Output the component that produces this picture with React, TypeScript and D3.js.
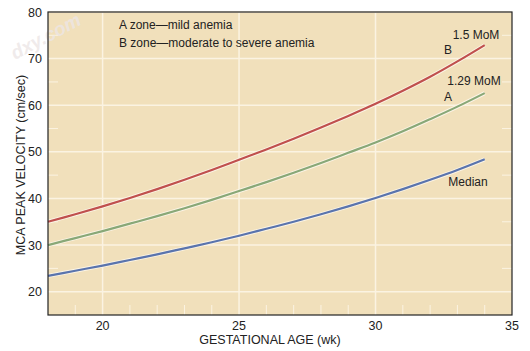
import React from "react";
import * as d3 from "d3";

const weeks = [18, 19, 20, 21, 22, 23, 24, 25, 26, 27, 28, 29, 30, 31, 32, 33, 34];
const median = [23.4, 24.5, 25.6, 26.8, 28.0, 29.3, 30.6, 32.0, 33.5, 35.0, 36.6, 38.3, 40.1, 42.0, 44.0, 46.1, 48.4];
const mom129 = [30.0, 31.5, 33.0, 34.6, 36.2, 37.9, 39.7, 41.6, 43.5, 45.5, 47.6, 49.8, 52.0, 54.4, 57.0, 59.7, 62.6];
const mom15 = [35.0, 36.6, 38.3, 40.1, 42.0, 44.0, 46.1, 48.3, 50.5, 52.8, 55.2, 57.7, 60.3, 63.1, 66.1, 69.4, 72.9];
const xTicks = [20, 25, 30, 35];
const yTicks = [20, 30, 40, 50, 60, 70, 80];
const yMinor = [25, 35, 45, 55, 65, 75];
const xMinor = [19, 21, 22, 23, 24, 26, 27, 28, 29, 31, 32, 33, 34];
const legendLines = ["A zone\u2014mild anemia", "B zone\u2014moderate to severe anemia"];

const W = 530, H = 351;
const L = 48, R = 512, T = 12, B = 315;

export default function App() {
  const x = d3.scaleLinear().domain([18, 35]).range([L, R]);
  const y = d3.scaleLinear().domain([15, 80]).range([B, T]);
  const line = d3.line<number>().x((_, i) => x(weeks[i])).y((v) => y(v)).curve(d3.curveCatmullRom);
  const font = "Liberation Sans, Arial, sans-serif";
  const series = [
    { vals: median, color: "#5a74ad" },
    { vals: mom129, color: "#89a877" },
    { vals: mom15, color: "#c0504d" },
  ];
  return (
    <svg width={W} height={H} style={{ position: "absolute", left: 0, top: 0 }} fontFamily={font}>
      <rect x={0} y={0} width={W} height={H} fill="#fff" />
      <rect x={L} y={T} width={R - L} height={B - T} fill="#f1e0bb" />
      {yTicks.map((t) => (
        <line key={"gy" + t} x1={L} x2={R} y1={y(t)} y2={y(t)} stroke="#fbf3e2" strokeWidth={1.5} />
      ))}
      {xTicks.slice(0, 3).map((t) => (
        <line key={"gx" + t} x1={x(t)} x2={x(t)} y1={T} y2={B} stroke="#fbf3e2" strokeWidth={1.5} />
      ))}
      {xMinor.map((t) => (
        <line key={"mx" + t} x1={x(t)} x2={x(t)} y1={B - 10} y2={B} stroke="#fbf3e2" strokeWidth={1} />
      ))}
      {yMinor.map((t) => (
        <g key={"my" + t}>
          <line x1={L} x2={L + 10} y1={y(t)} y2={y(t)} stroke="#fbf3e2" strokeWidth={1} />
          <line x1={R - 10} x2={R} y1={y(t)} y2={y(t)} stroke="#fbf3e2" strokeWidth={1} />
        </g>
      ))}
      <text x={15} y={60} fill="#ece6e6" fillOpacity={0.8} fontSize={19} fontWeight="bold" fontStyle="italic" transform="rotate(-28 15 60)">dxy.com</text>
      {series.map((s, i) => (
        <g key={"s" + i}>
          <path d={line(s.vals) || ""} fill="none" stroke="#fbf4e6" strokeWidth={4} />
          <path d={line(s.vals) || ""} fill="none" stroke={s.color} strokeWidth={2.2} />
        </g>
      ))}
      <rect x={L} y={T} width={R - L} height={B - T} fill="none" stroke="#222" strokeWidth={1.2} />
      {yTicks.map((t) => (
        <text key={"ty" + t} x={L - 6} y={y(t) + 4.5} textAnchor="end" fontSize={12.5} fill="#222">{t}</text>
      ))}
      {xTicks.map((t) => (
        <text key={"tx" + t} x={x(t)} y={B + 15} textAnchor="middle" fontSize={12.5} fill="#222">{t}</text>
      ))}
      <text x={270} y={344} textAnchor="middle" fontSize={12.5} fill="#222">GESTATIONAL AGE (wk)</text>
      <text transform={`translate(25,165) rotate(-90)`} textAnchor="middle" fontSize={12.5} fill="#222">MCA PEAK VELOCITY (cm/sec)</text>
      {legendLines.map((s, i) => (
        <text key={"lg" + i} x={119} y={29 + i * 18} fontSize={12} fill="#222">{s}</text>
      ))}
      <text x={476} y={39} textAnchor="middle" fontSize={12} fill="#222">1.5 MoM</text>
      <text x={448} y={54} textAnchor="middle" fontSize={12} fill="#222">B</text>
      <text x={474} y={85} textAnchor="middle" fontSize={12} fill="#222">1.29 MoM</text>
      <text x={448} y={101} textAnchor="middle" fontSize={12} fill="#222">A</text>
      <text x={468} y={186} textAnchor="middle" fontSize={12} fill="#222">Median</text>
    </svg>
  );
}
